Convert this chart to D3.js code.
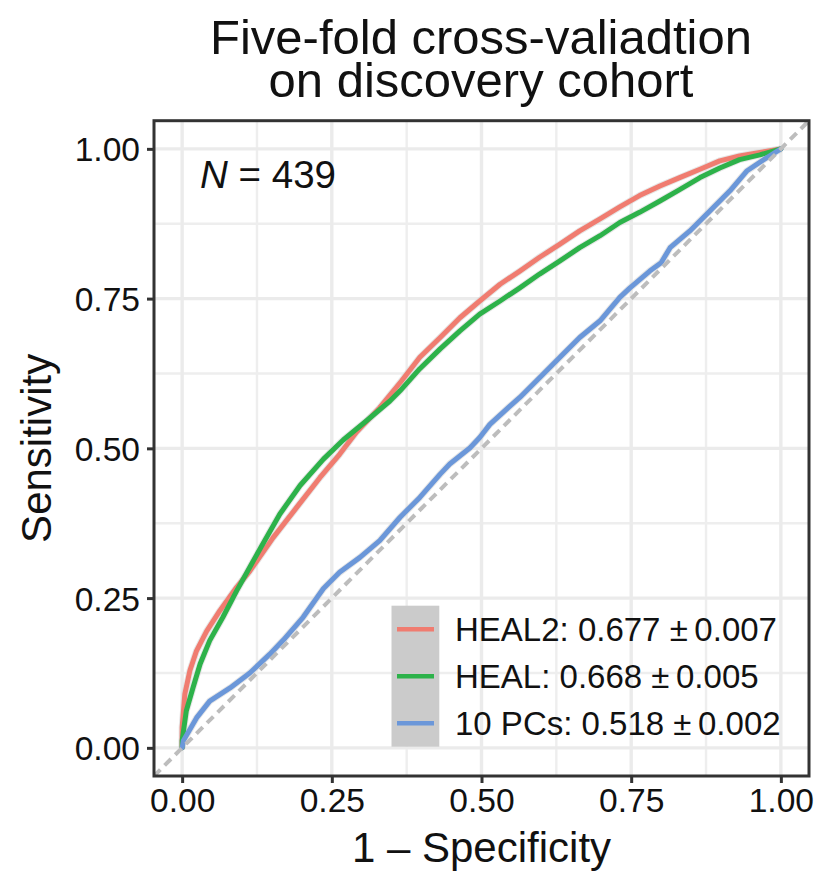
<!DOCTYPE html><html><meta charset="UTF-8">
<title>ROC</title>
<style>
  body { margin: 0; background: #fff; overflow: hidden; }
  text { font-family: "Liberation Sans", Arial, Helvetica, sans-serif; fill: #111; }
</style>
<script src="https://cdn.jsdelivr.net/npm/d3@7"></script>
<svg width="823" height="872"></svg>
<script>

// ROC curves: [1 - specificity, sensitivity]
var heal2 = [[0,0],[0,0.034],[0.0045,0.09],[0.013,0.129],[0.024,0.162],[0.041,0.195],[0.063,0.229],
  [0.091,0.268],[0.113,0.295],[0.152,0.351],[0.191,0.401],[0.23,0.451],[0.263,0.49],[0.291,0.527],
  [0.33,0.568],[0.366,0.612],[0.397,0.652],[0.431,0.685],[0.464,0.718],[0.497,0.746],[0.531,0.774],
  [0.564,0.796],[0.597,0.819],[0.631,0.841],[0.664,0.863],[0.698,0.883],[0.731,0.903],[0.764,0.922],
  [0.798,0.938],[0.831,0.952],[0.865,0.966],[0.898,0.98],[0.931,0.988],[0.965,0.994],[1,1]];

var heal = [[0,0],[0,0.012],[0.007,0.062],[0.018,0.1],[0.03,0.14],[0.046,0.179],[0.068,0.218],
  [0.091,0.262],[0.116,0.307],[0.13,0.332],[0.163,0.39],[0.197,0.438],[0.236,0.482],[0.269,0.514],
  [0.308,0.546],[0.347,0.579],[0.364,0.596],[0.397,0.633],[0.431,0.666],[0.464,0.696],[0.497,0.724],
  [0.531,0.746],[0.564,0.768],[0.597,0.791],[0.631,0.813],[0.664,0.835],[0.698,0.855],[0.731,0.877],
  [0.764,0.894],[0.798,0.913],[0.831,0.932],[0.865,0.952],[0.898,0.968],[0.931,0.982],[0.965,0.99],[1,1]];

var pcs = [[0,0],[0.002,0.012],[0.024,0.05],[0.046,0.078],[0.08,0.1],[0.113,0.125],[0.146,0.156],
  [0.169,0.18],[0.202,0.218],[0.236,0.266],[0.263,0.293],[0.297,0.318],[0.33,0.346],[0.364,0.385],
  [0.397,0.418],[0.431,0.457],[0.447,0.474],[0.481,0.501],[0.497,0.518],[0.514,0.54],[0.547,0.57],
  [0.564,0.585],[0.597,0.618],[0.631,0.652],[0.664,0.685],[0.698,0.713],[0.731,0.752],[0.748,0.768],
  [0.781,0.796],[0.8,0.81],[0.815,0.835],[0.848,0.863],[0.881,0.896],[0.915,0.93],[0.943,0.963],
  [0.976,0.985],[1,1]];

var seriesNames = ["HEAL2", "HEAL", "10 PCs"];
var seriesAuc = ["0.677", "0.668", "0.518"];
var seriesSd = ["0.007", "0.005", "0.002"];
var seriesColors = ["#F07C70", "#2DB24A", "#6B97D9"];
var tickValues = [0, 0.25, 0.5, 0.75, 1];
var minorTicks = [0.125, 0.375, 0.625, 0.875];
var sampleSize = 439;

var svg = d3.select("svg");
var pLeft = 154, pRight = 809, pTop = 120.7, pBottom = 776;

var x = d3.scaleLinear().domain([-0.047, 1.047]).range([pLeft, pRight]);
var y = d3.scaleLinear().domain([-0.047, 1.047]).range([pBottom, pTop]);

svg.append("defs").append("clipPath").attr("id", "panel")
  .append("rect").attr("x", pLeft).attr("y", pTop)
  .attr("width", pRight - pLeft).attr("height", pBottom - pTop);

var panel = svg.append("g").attr("clip-path", "url(#panel)");

// grid
panel.selectAll(".vminor").data(minorTicks).enter().append("line")
  .attr("x1", d => x(d)).attr("x2", d => x(d)).attr("y1", pTop).attr("y2", pBottom)
  .attr("stroke", "#EEEEEE").attr("stroke-width", 2.4);
panel.selectAll(".hminor").data(minorTicks).enter().append("line")
  .attr("y1", d => y(d)).attr("y2", d => y(d)).attr("x1", pLeft).attr("x2", pRight)
  .attr("stroke", "#EEEEEE").attr("stroke-width", 2.4);
panel.selectAll(".vmajor").data(tickValues).enter().append("line")
  .attr("x1", d => x(d)).attr("x2", d => x(d)).attr("y1", pTop).attr("y2", pBottom)
  .attr("stroke", "#EBEBEB").attr("stroke-width", 3.4);
panel.selectAll(".hmajor").data(tickValues).enter().append("line")
  .attr("y1", d => y(d)).attr("y2", d => y(d)).attr("x1", pLeft).attr("x2", pRight)
  .attr("stroke", "#EBEBEB").attr("stroke-width", 3.4);

// curves
var line = d3.line().x(d => x(d[0])).y(d => y(d[1]));
var curves = [heal2, heal, pcs];
// faint ribbon halo
panel.selectAll(".halo").data(curves).enter().append("path")
  .attr("d", line).attr("fill", "none")
  .attr("stroke", "#D6D6D6").attr("stroke-width", 7).attr("stroke-opacity", 0.6);
panel.selectAll(".curve").data(curves).enter().append("path")
  .attr("d", line).attr("fill", "none")
  .attr("stroke", (d, i) => seriesColors[i]).attr("stroke-width", 5)
  .attr("stroke-linejoin", "round").attr("stroke-linecap", "round");

// chance line
panel.append("line")
  .attr("x1", x(-0.047)).attr("y1", y(-0.047)).attr("x2", x(1.047)).attr("y2", y(1.047))
  .attr("stroke", "#BDBDBD").attr("stroke-width", 4).attr("stroke-dasharray", "9,6");

// border
svg.append("rect").attr("x", pLeft).attr("y", pTop)
  .attr("width", pRight - pLeft).attr("height", pBottom - pTop)
  .attr("fill", "none").attr("stroke", "#333333").attr("stroke-width", 3);

// axes
var xAxis = d3.axisBottom(x).tickValues(tickValues).tickSize(7).tickPadding(4)
  .tickFormat(d3.format(".2f"));
var yAxis = d3.axisLeft(y).tickValues(tickValues).tickSize(7).tickPadding(6)
  .tickFormat(d3.format(".2f"));

var gx = svg.append("g").attr("transform", "translate(0," + pBottom + ")").call(xAxis);
var gy = svg.append("g").attr("transform", "translate(" + pLeft + ",0)").call(yAxis);
[gx, gy].forEach(function(g) {
  g.select(".domain").remove();
  g.selectAll(".tick line").attr("stroke", "#333333").attr("stroke-width", 3);
  g.selectAll(".tick text").attr("font-size", 33.6).attr("fill", "#111")
    .attr("font-family", "Liberation Sans, Arial, sans-serif");
});
gx.selectAll(".tick text").attr("dy", null).attr("y", 36);
gy.selectAll(".tick text").attr("dy", null).attr("y", 12).attr("x", -14);

// titles
var title = svg.append("text").attr("text-anchor", "middle").attr("font-size", 49);
title.append("tspan").attr("x", 481).attr("y", 54).text("Five-fold cross-valiadtion");
title.append("tspan").attr("x", 481).attr("y", 97).text("on discovery cohort");

svg.append("text").attr("x", 481.5).attr("y", 862).attr("text-anchor", "middle")
  .attr("font-size", 42).text("1 \u2013 Specificity");
svg.append("text").attr("transform", "translate(51," + ((pTop + pBottom) / 2) + ") rotate(-90)")
  .attr("text-anchor", "middle").attr("font-size", 42).text("Sensitivity");

// annotation
var ann = svg.append("text").attr("x", x(0.03)).attr("y", 188).attr("font-size", 38.5);
ann.append("tspan").attr("font-style", "italic").text("N");
ann.append("tspan").text(" = " + sampleSize);

// legend
var legend = svg.append("g");
legend.append("rect").attr("x", 391.5).attr("y", 605.7).attr("width", 47.8).attr("height", 141)
  .attr("fill", "#CBCBCB");
var rows = legend.selectAll(".row").data(seriesNames).enter().append("g")
  .attr("transform", (d, i) => "translate(0," + (629.3 + i * 47) + ")");
rows.append("line").attr("x1", 397).attr("x2", 434).attr("y1", 0).attr("y2", 0)
  .attr("stroke", (d, i) => seriesColors[i]).attr("stroke-width", 4.5);
rows.append("text").attr("x", 455).attr("y", 12).attr("font-size", 33)
  .text((d, i) => d + ": " + seriesAuc[i] + " \u00B1\u2009" + seriesSd[i]);

</script>
</html>
